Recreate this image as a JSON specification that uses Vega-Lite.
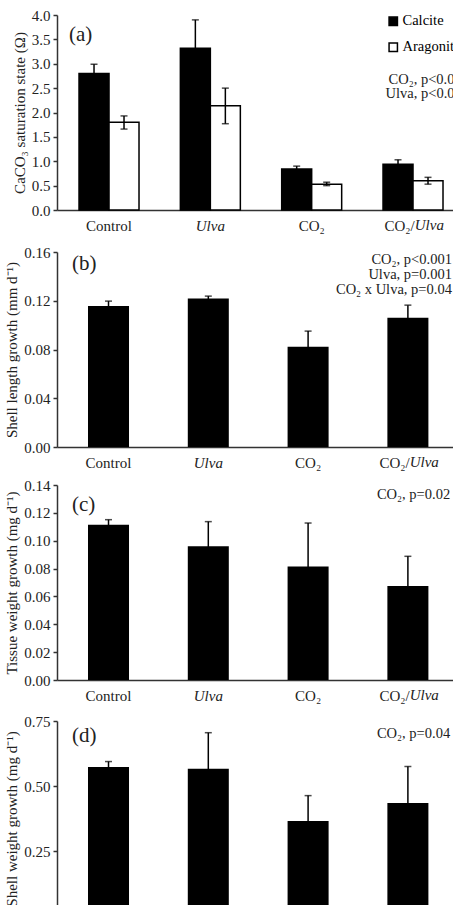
{
  "$schema": "https://vega.github.io/schema/vega-lite/v6.json",
  "background": "white",
  "padding": {"left": 4, "top": 8, "right": 0, "bottom": 0},
  "config": {
    "font": "Liberation Serif",
    "view": {"stroke": null},
    "axis": {
      "labelFont": "Liberation Serif", "titleFont": "Liberation Serif",
      "labelFontSize": 15, "titleFontSize": 15, "titleFontWeight": "normal",
      "labelColor": "#222", "titleColor": "#222",
      "domainColor": "#333", "domainWidth": 1.5, "tickColor": "#333", "tickWidth": 1.5,
      "grid": false, "labelOverlap": false
    },
    "axisX": {"ticks": false, "tickSize": 0, "labelPadding": 8, "labelAngle": 0, "title": null, "labelOverlap": false,
      "labelExpr": "datum.value === 'CO₂/Ulva' ? 'CO₂/' : datum.label",
      "labelAlign": {"condition": {"test": "datum.value === 'CO₂/Ulva'", "value": "right"}, "value": "center"},
      "labelOffset": {"condition": {"test": "datum.value === 'CO₂/Ulva'", "value": 1.75}, "value": 0},
      "labelFontStyle": {"condition": {"test": "datum.value === 'Ulva'", "value": "italic"}, "value": "normal"}},
    "axisY": {"tickSize": 4, "labelPadding": 3, "titlePadding": 4, "labelOverlap": false, "tickCount": 20},
    "text": {"font": "Liberation Serif", "color": "#222"}
  },
  "datasets": {
    "a": [
      {"cat": "Control", "series": "Calcite", "mean": 2.80, "lo": 2.61, "hi": 2.99},
      {"cat": "Control", "series": "Aragonite", "mean": 1.80, "lo": 1.66, "hi": 1.93},
      {"cat": "Ulva", "series": "Calcite", "mean": 3.32, "lo": 2.74, "hi": 3.90},
      {"cat": "Ulva", "series": "Aragonite", "mean": 2.14, "lo": 1.77, "hi": 2.50},
      {"cat": "CO₂", "series": "Calcite", "mean": 0.84, "lo": 0.78, "hi": 0.90},
      {"cat": "CO₂", "series": "Aragonite", "mean": 0.53, "lo": 0.50, "hi": 0.57},
      {"cat": "CO₂/Ulva", "series": "Calcite", "mean": 0.94, "lo": 0.85, "hi": 1.03},
      {"cat": "CO₂/Ulva", "series": "Aragonite", "mean": 0.60, "lo": 0.53, "hi": 0.67}
    ],
    "b": [
      {"cat": "Control", "mean": 0.1156, "lo": 0.1115, "hi": 0.1197},
      {"cat": "Ulva", "mean": 0.1219, "lo": 0.1200, "hi": 0.1238},
      {"cat": "CO₂", "mean": 0.0822, "lo": 0.0693, "hi": 0.0951},
      {"cat": "CO₂/Ulva", "mean": 0.1060, "lo": 0.0956, "hi": 0.1164}
    ],
    "c": [
      {"cat": "Control", "mean": 0.1115, "lo": 0.1079, "hi": 0.1151},
      {"cat": "Ulva", "mean": 0.0960, "lo": 0.0783, "hi": 0.1137},
      {"cat": "CO₂", "mean": 0.0814, "lo": 0.0501, "hi": 0.1127},
      {"cat": "CO₂/Ulva", "mean": 0.0675, "lo": 0.0462, "hi": 0.0888}
    ],
    "d": [
      {"cat": "Control", "mean": 0.573, "lo": 0.552, "hi": 0.594},
      {"cat": "Ulva", "mean": 0.566, "lo": 0.427, "hi": 0.705},
      {"cat": "CO₂", "mean": 0.365, "lo": 0.267, "hi": 0.463},
      {"cat": "CO₂/Ulva", "mean": 0.435, "lo": 0.295, "hi": 0.575}
    ],
    "xl": [{"part": "Ulva"}]
  },
  "columns": 1,
  "align": "none",
  "spacing": 8,
  "concat": [
    {
      "columns": 1,
      "align": "none",
      "spacing": 12,
      "concat": [
        {
          "width": 405, "height": 195,
          "data": {"name": "a"},
          "encoding": {
            "x": {"field": "cat", "type": "nominal", "sort": ["Control", "Ulva", "CO₂", "CO₂/Ulva"],
              "scale": {"paddingInner": 0.408, "paddingOuter": 0.2024, "align": 0.537}}
          },
          "layer": [
            {
              "mark": {"type": "bar", "stroke": "#000", "strokeWidth": 1.5},
              "encoding": {
                "xOffset": {"field": "series", "type": "nominal", "sort": ["Calcite", "Aragonite"], "scale": {"paddingInner": 0, "paddingOuter": 0}},
                "y": {"field": "mean", "type": "quantitative",
                  "scale": {"domain": [0, 4], "nice": false},
                  "axis": {"values": [0, 0.5, 1, 1.5, 2, 2.5, 3, 3.5, 4], "tickCount": 20, "format": ".1f", "title": "CaCO₃ saturation state (Ω)"}},
                "fill": {"field": "series", "type": "nominal", "sort": ["Calcite", "Aragonite"],
                  "scale": {"domain": ["Calcite", "Aragonite"], "range": ["#000000", "#ffffff"]},
                  "legend": {"orient": "none", "legendX": 329, "legendY": -1, "title": null, "symbolType": "square", "symbolSize": 70,
                    "symbolStrokeColor": "#000", "symbolStrokeWidth": 1.5, "labelFontSize": 14.5, "labelFont": "Liberation Serif", "labelColor": "#000",
                    "rowPadding": 10, "labelOffset": 2, "padding": 0}}
              }
            },
            {
              "mark": {"type": "rule", "color": "#000", "strokeWidth": 1.5},
              "encoding": {
                "xOffset": {"field": "series", "type": "nominal", "sort": ["Calcite", "Aragonite"]},
                "y": {"field": "lo", "type": "quantitative"}, "y2": {"field": "hi"}}
            },
            {
              "mark": {"type": "tick", "color": "#000", "size": 7, "thickness": 1.5},
              "encoding": {
                "xOffset": {"field": "series", "type": "nominal", "sort": ["Calcite", "Aragonite"]},
                "y": {"field": "hi", "type": "quantitative"}}
            },
            {
              "mark": {"type": "tick", "color": "#000", "size": 7, "thickness": 1.5},
              "encoding": {
                "xOffset": {"field": "series", "type": "nominal", "sort": ["Calcite", "Aragonite"]},
                "y": {"field": "lo", "type": "quantitative"}}
            },
            {
              "data": {"values": [{"label": "(a)"}]},
              "mark": {"type": "text", "align": "left", "baseline": "middle", "fontSize": 21, "dx": -40},
              "encoding": {"x": {"datum": "Control"}, "y": {"datum": 3.58}, "text": {"field": "label"}}
            },
            {
              "data": {"values": [{"note": ["CO₂, p<0.001", "Ulva, p<0.001"]}]},
              "mark": {"type": "text", "align": "right", "baseline": "alphabetic", "fontSize": 14.5, "lineHeight": 14, "dx": 56, "clip": true},
              "encoding": {"x": {"datum": "CO₂/Ulva"}, "y": {"datum": 2.585}, "text": {"field": "note"}}
            },
            {
              "data": {"name": "xl"},
              "mark": {"type": "text", "align": "left", "baseline": "top", "fontSize": 15, "fontStyle": "italic", "dx": 1.75, "dy": 8},
              "encoding": {"x": {"datum": "CO₂/Ulva"}, "y": {"datum": 0}, "text": {"field": "part"}}
            }
          ]
        },
        {
          "width": 399, "height": 195,
          "data": {"name": "b"},
          "encoding": {
            "x": {"field": "cat", "type": "nominal", "sort": ["Control", "Ulva", "CO₂", "CO₂/Ulva"],
              "scale": {"paddingInner": 0.589, "paddingOuter": 0.2936, "align": 0.529}}
          },
          "layer": [
            {
              "mark": {"type": "bar", "color": "#000"},
              "encoding": {"y": {"field": "mean", "type": "quantitative", "scale": {"domain": [0, 0.16], "nice": false},
                "axis": {"values": [0, 0.04, 0.08, 0.12, 0.16], "tickCount": 20, "format": ".2f", "title": "Shell length growth (mm d⁻¹)"}}}
            },
            {"mark": {"type": "rule", "color": "#000", "strokeWidth": 1.5}, "encoding": {"y": {"field": "lo", "type": "quantitative"}, "y2": {"field": "hi"}}},
            {"mark": {"type": "tick", "color": "#000", "size": 7, "thickness": 1.5}, "encoding": {"y": {"field": "hi", "type": "quantitative"}}},
            {
              "data": {"values": [{"label": "(b)"}]},
              "mark": {"type": "text", "align": "left", "baseline": "middle", "fontSize": 21, "dx": -36.5},
              "encoding": {"x": {"datum": "Control"}, "y": {"datum": 0.1503}, "text": {"field": "label"}}
            },
            {
              "data": {"values": [{"note": ["CO₂, p<0.001", "Ulva, p=0.001", "CO₂ x Ulva, p=0.04"]}]},
              "mark": {"type": "text", "align": "right", "baseline": "alphabetic", "fontSize": 14.5, "lineHeight": 15, "dx": 44, "clip": true},
              "encoding": {"x": {"datum": "CO₂/Ulva"}, "y": {"datum": 0.1505}, "text": {"field": "note"}}
            },
            {
              "data": {"name": "xl"},
              "mark": {"type": "text", "align": "left", "baseline": "top", "fontSize": 15, "fontStyle": "italic", "dx": 1.75, "dy": 8},
              "encoding": {"x": {"datum": "CO₂/Ulva"}, "y": {"datum": 0}, "text": {"field": "part"}}
            }
          ]
        }
      ]
    },
    {
      "columns": 1,
      "align": "none",
      "spacing": 11,
      "concat": [
        {
          "width": 399, "height": 195,
          "data": {"name": "c"},
          "encoding": {
            "x": {"field": "cat", "type": "nominal", "sort": ["Control", "Ulva", "CO₂", "CO₂/Ulva"],
              "scale": {"paddingInner": 0.589, "paddingOuter": 0.2936, "align": 0.529}}
          },
          "layer": [
            {
              "mark": {"type": "bar", "color": "#000"},
              "encoding": {"y": {"field": "mean", "type": "quantitative", "scale": {"domain": [0, 0.14], "nice": false},
                "axis": {"values": [0, 0.02, 0.04, 0.06, 0.08, 0.1, 0.12, 0.14], "tickCount": 20, "format": ".2f", "title": "Tissue weight growth (mg d⁻¹)"}}}
            },
            {"mark": {"type": "rule", "color": "#000", "strokeWidth": 1.5}, "encoding": {"y": {"field": "lo", "type": "quantitative"}, "y2": {"field": "hi"}}},
            {"mark": {"type": "tick", "color": "#000", "size": 7, "thickness": 1.5}, "encoding": {"y": {"field": "hi", "type": "quantitative"}}},
            {
              "data": {"values": [{"label": "(c)"}]},
              "mark": {"type": "text", "align": "left", "baseline": "middle", "fontSize": 21, "dx": -36.5},
              "encoding": {"x": {"datum": "Control"}, "y": {"datum": 0.1256}, "text": {"field": "label"}}
            },
            {
              "data": {"values": [{"note": ["CO₂, p=0.02"]}]},
              "mark": {"type": "text", "align": "left", "baseline": "alphabetic", "fontSize": 14.5, "lineHeight": 15, "dx": -31, "clip": true},
              "encoding": {"x": {"datum": "CO₂/Ulva"}, "y": {"datum": 0.1299}, "text": {"field": "note"}}
            },
            {
              "data": {"name": "xl"},
              "mark": {"type": "text", "align": "left", "baseline": "top", "fontSize": 15, "fontStyle": "italic", "dx": 1.75, "dy": 8},
              "encoding": {"x": {"datum": "CO₂/Ulva"}, "y": {"datum": 0}, "text": {"field": "part"}}
            }
          ]
        },
        {
          "width": 399, "height": 195,
          "data": {"name": "d"},
          "encoding": {
            "x": {"field": "cat", "type": "nominal", "sort": ["Control", "Ulva", "CO₂", "CO₂/Ulva"],
              "scale": {"paddingInner": 0.589, "paddingOuter": 0.2936, "align": 0.529}}
          },
          "layer": [
            {
              "mark": {"type": "bar", "color": "#000"},
              "encoding": {"y": {"field": "mean", "type": "quantitative", "scale": {"domain": [0, 0.75], "nice": false},
                "axis": {"values": [0, 0.25, 0.5, 0.75], "tickCount": 20, "format": ".2f", "title": "Shell weight growth (mg d⁻¹)"}}}
            },
            {"mark": {"type": "rule", "color": "#000", "strokeWidth": 1.5}, "encoding": {"y": {"field": "lo", "type": "quantitative"}, "y2": {"field": "hi"}}},
            {"mark": {"type": "tick", "color": "#000", "size": 7, "thickness": 1.5}, "encoding": {"y": {"field": "hi", "type": "quantitative"}}},
            {
              "data": {"values": [{"label": "(d)"}]},
              "mark": {"type": "text", "align": "left", "baseline": "middle", "fontSize": 21, "dx": -36.5},
              "encoding": {"x": {"datum": "Control"}, "y": {"datum": 0.692}, "text": {"field": "label"}}
            },
            {
              "data": {"values": [{"note": ["CO₂, p=0.04"]}]},
              "mark": {"type": "text", "align": "left", "baseline": "alphabetic", "fontSize": 14.5, "lineHeight": 15, "dx": -31, "clip": true},
              "encoding": {"x": {"datum": "CO₂/Ulva"}, "y": {"datum": 0.683}, "text": {"field": "note"}}
            }
          ]
        }
      ]
    }
  ]
}
